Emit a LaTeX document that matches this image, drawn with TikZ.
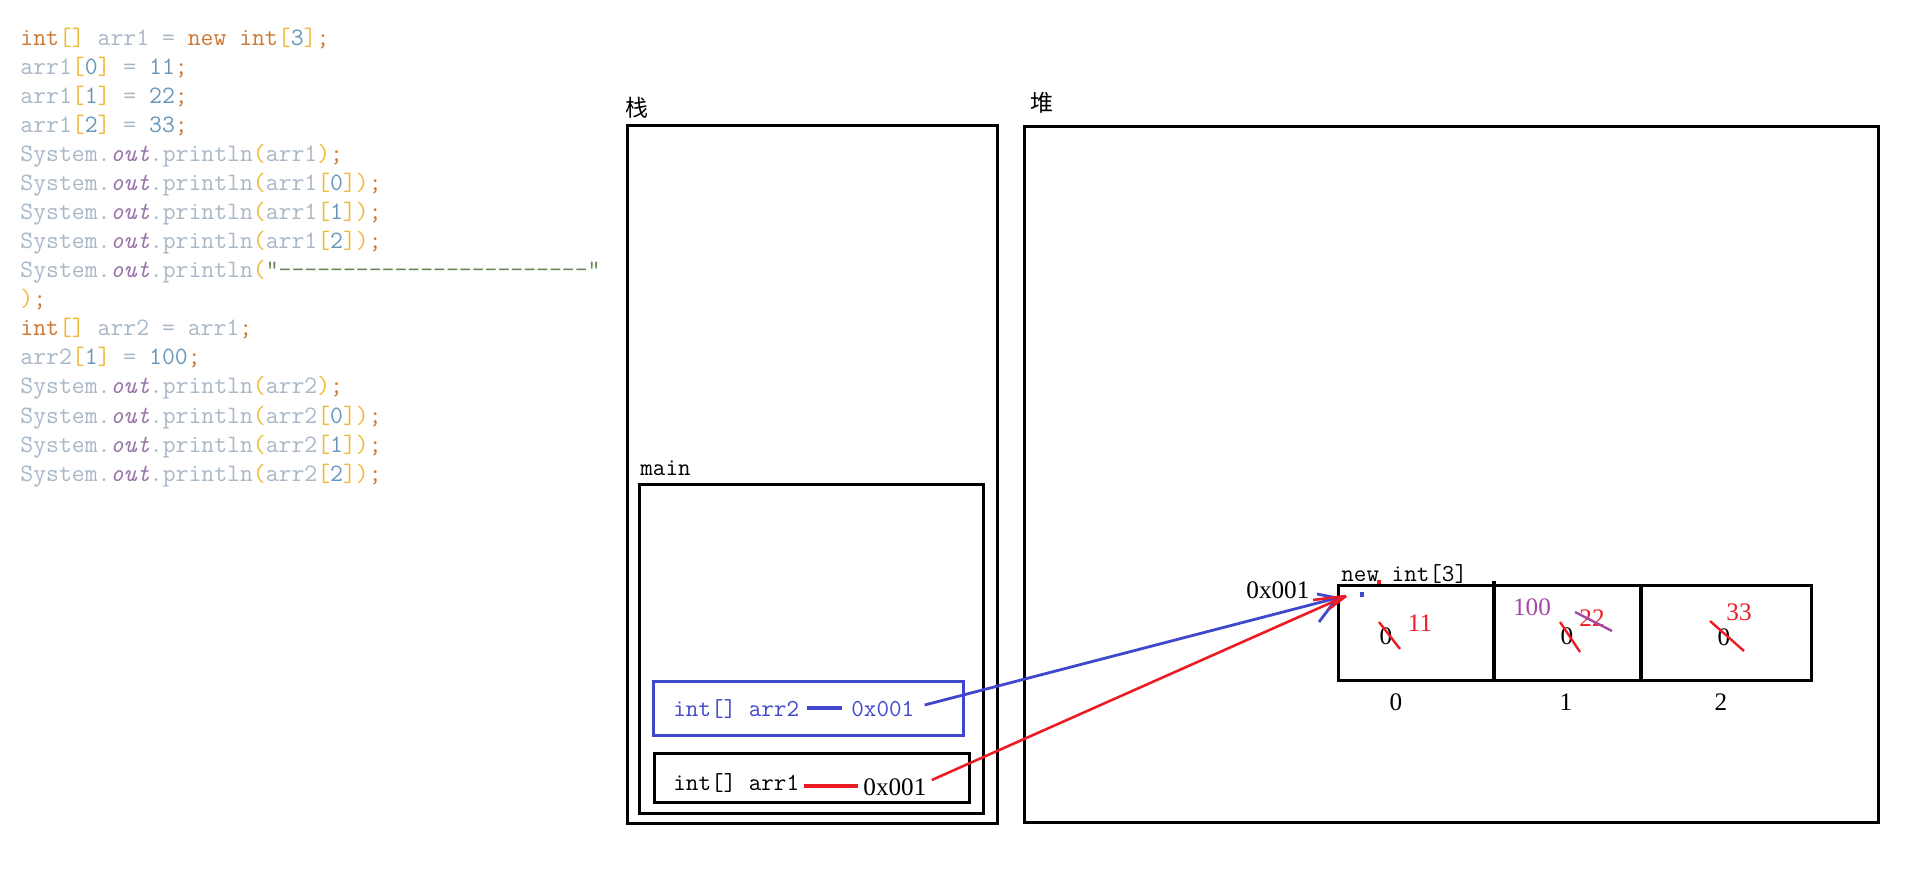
\documentclass[tikz,border=0pt]{standalone}
\usepackage{fontspec}
\usetikzlibrary{calc}
\newfontfamily\cjk{Noto Sans CJK SC}
\newfontfamily\tnr{Liberation Serif}
\definecolor{ckwc}{HTML}{CC7832}
\definecolor{cplc}{HTML}{A9B7C6}
\definecolor{cnumc}{HTML}{6897BB}
\definecolor{cbrc}{HTML}{EDBA3A}
\definecolor{coutc}{HTML}{9876AA}
\definecolor{cstrc}{HTML}{6A8759}
\definecolor{pblue}{HTML}{3F48CC}
\definecolor{pred}{HTML}{ED1C24}
\definecolor{ppurple}{HTML}{A349A4}
\newcommand\ckw[1]{\textcolor{ckwc}{#1}}
\newcommand\cpl[1]{\textcolor{cplc}{#1}}
\newcommand\cnum[1]{\textcolor{cnumc}{#1}}
\newcommand\cbr[1]{\textcolor{cbrc}{#1}}
\newcommand\cout{\textcolor{coutc}{\itshape out}}
\newcommand\csys{\cpl{System.}\cout\cpl{.println}}
\newcommand\dashes{-{}-{}-{}-{}-{}-{}-{}-{}-{}-{}-{}-{}-{}-{}-{}-{}-{}-{}-{}-{}-{}-{}-{}-{}}
\begin{document}
\begin{tikzpicture}[x=0.5pt,y=-0.5pt,
  code/.style={anchor=base west,inner sep=0pt,font=\ttfamily\fontsize{12.5pt}{14pt}\selectfont},
  mono/.style={anchor=base west,inner sep=0pt,font=\ttfamily\fontsize{12.2pt}{14pt}\selectfont},
  num/.style={inner sep=0pt,font=\tnr\fontsize{12.6pt}{14pt}\selectfont},
  cjklabel/.style={inner sep=0pt,font=\cjk\fontsize{11.5pt}{13pt}\selectfont},
  box/.style={draw=black,line width=1.6pt,anchor=north west,inner sep=0pt},
  bluebox/.style={draw=pblue,line width=1.6pt,anchor=north west,inner sep=0pt},
  bline/.style={draw=pblue,line width=1.6pt},
  rline/.style={draw=pred,line width=1.6pt},
  barrow/.style={draw=pblue,line width=1.4pt},
  rarrow/.style={draw=pred,line width=1.3pt},
  strike/.style={draw=pred,line width=1.2pt},
]
\useasboundingbox (0,0) rectangle (1914,881);

% ---------------- code ----------------
\node[code] (l1)  at (20,46)  {\ckw{int}\cbr{[]} \cpl{arr1 =} \ckw{new} \ckw{int}\cbr{[}\cnum{3}\cbr{]}\ckw{;}};
\node[code] (l2)  at (20,75)  {\cpl{arr1}\cbr{[}\cnum{0}\cbr{]} \cpl{=} \cnum{11}\ckw{;}};
\node[code] (l3)  at (20,104) {\cpl{arr1}\cbr{[}\cnum{1}\cbr{]} \cpl{=} \cnum{22}\ckw{;}};
\node[code] (l4)  at (20,133) {\cpl{arr1}\cbr{[}\cnum{2}\cbr{]} \cpl{=} \cnum{33}\ckw{;}};
\node[code] (l5)  at (20,162) {\csys\cbr{(}\cpl{arr1}\cbr{)}\ckw{;}};
\node[code] (l6)  at (20,191) {\csys\cbr{(}\cpl{arr1}\cbr{[}\cnum{0}\cbr{])}\ckw{;}};
\node[code] (l7)  at (20,220) {\csys\cbr{(}\cpl{arr1}\cbr{[}\cnum{1}\cbr{])}\ckw{;}};
\node[code] (l8)  at (20,249) {\csys\cbr{(}\cpl{arr1}\cbr{[}\cnum{2}\cbr{])}\ckw{;}};
\node[code] (l9)  at (20,278) {\csys\cbr{(}\textcolor{cstrc}{"\dashes"}};
\node[code] (l10) at (20,307) {\cbr{)}\ckw{;}};
\node[code] (l11) at (20,336) {\ckw{int}\cbr{[]} \cpl{arr2 = arr1}\ckw{;}};
\node[code] (l12) at (20,365) {\cpl{arr2}\cbr{[}\cnum{1}\cbr{]} \cpl{=} \cnum{100}\ckw{;}};
\node[code] (l13) at (20,394) {\csys\cbr{(}\cpl{arr2}\cbr{)}\ckw{;}};
\node[code] (l14) at (20,423) {\csys\cbr{(}\cpl{arr2}\cbr{[}\cnum{0}\cbr{])}\ckw{;}};
\node[code] (l15) at (20,452) {\csys\cbr{(}\cpl{arr2}\cbr{[}\cnum{1}\cbr{])}\ckw{;}};
\node[code] (l16) at (20,481) {\csys\cbr{(}\cpl{arr2}\cbr{[}\cnum{2}\cbr{])}\ckw{;}};

% ---------------- stack ----------------
\node[cjklabel] (stacklbl) at (637,108) {栈};
\node[box,minimum width=185pt,minimum height=349pt] (stack) at (626,124) {};
\node[mono] (mainlbl) at (640,475) {main};
\node[box,minimum width=172pt,minimum height=164.5pt] (main) at (638,483) {};

\node[bluebox,minimum width=155pt,minimum height=27pt] (arr2box) at (652,680) {};
\node[mono,text=pblue] (a2) at (673,716) {int[] arr2};
\node[mono,text=pblue] (b2) at (851,716) {0x001};
\draw[bline] ($(a2.base east)+(8,-8)$) -- ($(b2.base west)+(-9,-8)$);

\node[box,minimum width=157.5pt,minimum height=24.5pt] (arr1box) at (653,752) {};
\node[mono] (a1) at (673,790) {int[] arr1};
\node[num,anchor=base west] (r1) at (863,795) {0x001};
\draw[rline] ($(a1.base east)+(5,-4)$) -- ($(r1.base west)+(-5,-9)$);

% ---------------- heap ----------------
\node[cjklabel] (heaplbl) at (1042,103) {堆};
\node[box,minimum width=427pt,minimum height=348pt] (heap) at (1023,125) {};

\node[mono] (newlbl) at (1341,581) {new int[3]};
\node[box,minimum width=236.5pt,minimum height=47.5pt] (arr) at (1337,584) {};
\draw[line width=1.6pt] (1494,581) -- (1494,682);
\draw[line width=1.6pt] (1641,584) -- (1641,679);
\node[num,anchor=base west] (haddr) at (1246,598) {0x001};

\node[num] (i0) at (1396,702) {0};
\node[num] (i1) at (1566,702) {1};
\node[num] (i2) at (1721,702) {2};

% cell 0
\node[num] (c0) at (1386,636) {0};
\draw[strike] (1379,622) -- (1400,649);
\node[num,text=pred] (v11) at (1420,623) {11};
% cell 1
\node[num,text=ppurple] (v100) at (1532,607) {100};
\node[num] (c1) at (1567,636) {0};
\draw[strike] (1560,622) -- (1580,652);
\node[num,text=pred] (v22) at (1592,618) {22};
\draw[draw=ppurple,line width=1.2pt] (1575,612) -- (1612,631);
% cell 2
\node[num,text=pred] (v33) at (1739,612) {33};
\node[num] (c2) at (1724,637) {0};
\draw[strike] (1710,621) -- (1744,651);

% small marks
\fill[pred] (1377,580) rectangle (1381,584);
\fill[pblue] (1360,592) rectangle (1364,597);

% ---------------- arrows ----------------
\coordinate (tB) at ($(arr.north west)+(0,14)$);
\coordinate (tR) at ($(arr.north west)+(9,12)$);
\draw[barrow] ($(b2.base east)+(10,-11)$) -- (tB);
\draw[barrow] (1317,594) -- (tB);
\draw[barrow] (1319,622) -- (tB);
\draw[rarrow] ($(r1.base east)+(5,-15)$) -- (tR);
\draw[rarrow] (1313,600) -- (tR);
\draw[rarrow] (1329,609) -- (tR);
\end{tikzpicture}
\end{document}
